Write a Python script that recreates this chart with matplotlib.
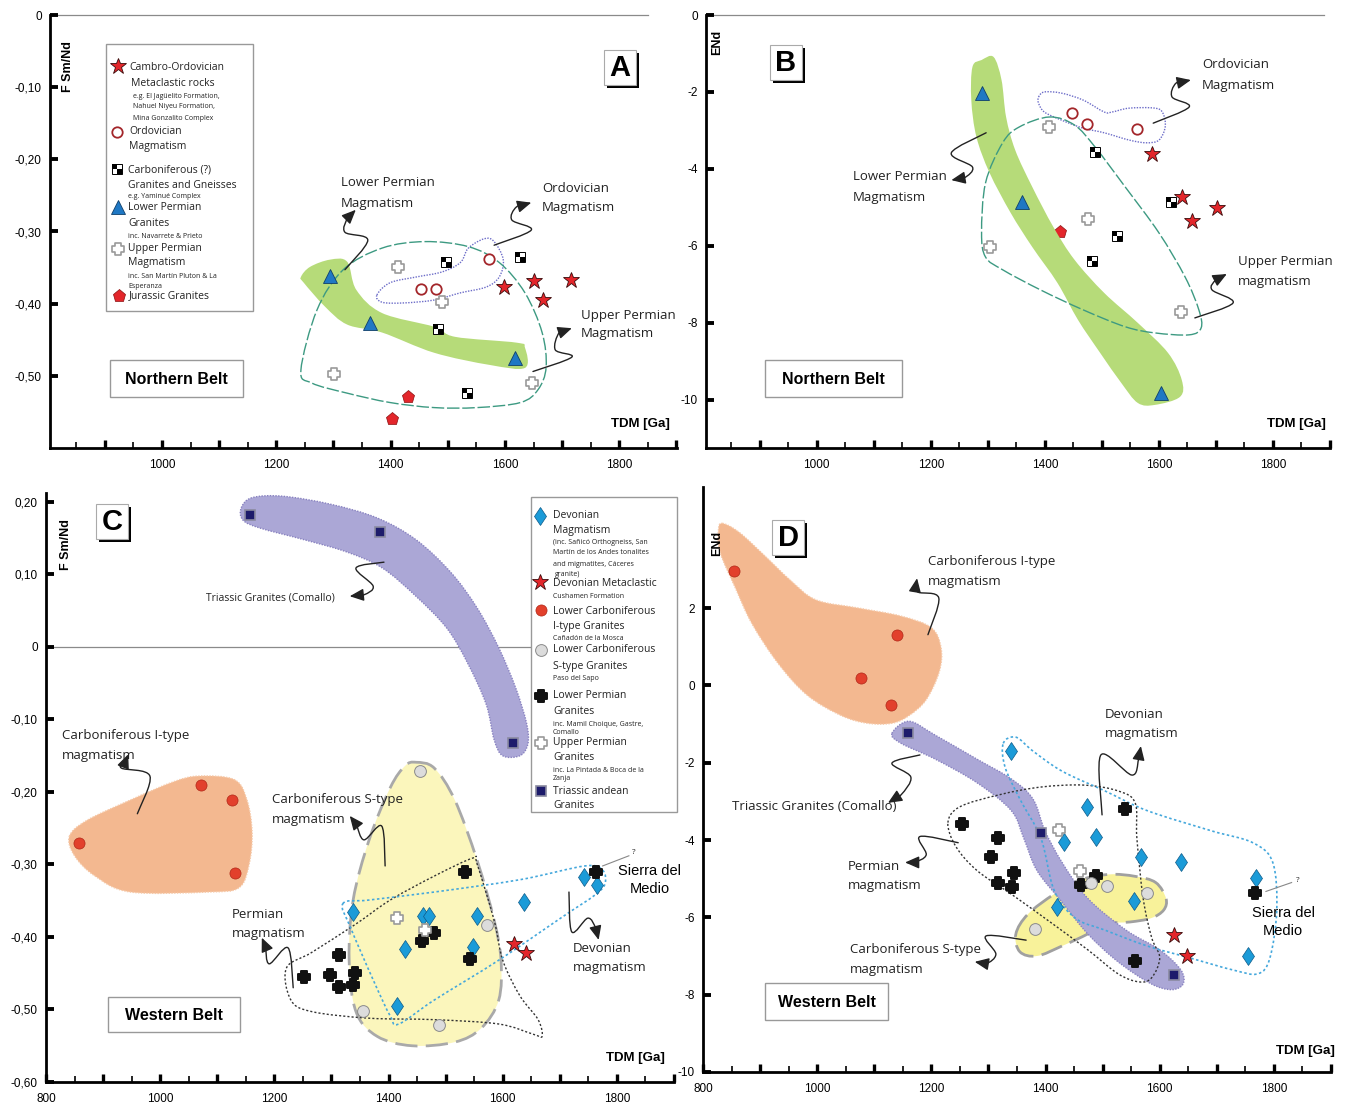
import numpy as np
import matplotlib
matplotlib.use('Agg')
import matplotlib.pyplot as plt
from matplotlib.path import Path
from matplotlib.patches import PathPatch, FancyArrowPatch, Rectangle

plt.rcParams['font.family'] = ['Open Sans', 'DejaVu Sans']

W, H = 1346, 1106

# ---------------- panel A : F Sm/Nd vs TDM, Northern Belt
a_star_x = [1599, 1651, 1716, 1666]
a_star_y = [-0.377, -0.369, -0.367, -0.395]
a_ordo_x = [1572, 1453, 1479]
a_ordo_y = [-0.338, -0.380, -0.379]
a_carb_x = [1497, 1627, 1483, 1534]
a_carb_y = [-0.342, -0.336, -0.435, -0.524]
a_lperm_x = [1294, 1364, 1618]
a_lperm_y = [-0.361, -0.427, -0.475]
a_uperm_x = [1413, 1490, 1301, 1648]
a_uperm_y = [-0.349, -0.397, -0.498, -0.510]
a_jur_x = [1430, 1402]
a_jur_y = [-0.530, -0.560]

a_green = [(1243, -0.363), (1259, -0.349), (1294, -0.339), (1324, -0.342), (1340, -0.381),
           (1385, -0.413), (1476, -0.432), (1513, -0.446), (1620, -0.454), (1635, -0.461),
           (1635, -0.489), (1574, -0.485), (1476, -0.468), (1385, -0.440), (1324, -0.429),
           (1285, -0.404), (1248, -0.371)]
a_ordo_field = [(1376, -0.388), (1399, -0.371), (1445, -0.363), (1490, -0.356), (1522, -0.343),
                (1536, -0.323), (1564, -0.310), (1581, -0.314), (1597, -0.339), (1590, -0.363),
                (1567, -0.377), (1522, -0.385), (1476, -0.395), (1422, -0.399), (1385, -0.398)]
a_uperm_field = [(1243, -0.492), (1271, -0.409), (1317, -0.353), (1385, -0.323), (1460, -0.314),
                 (1536, -0.321), (1590, -0.343), (1635, -0.385), (1665, -0.440), (1672, -0.488),
                 (1658, -0.519), (1627, -0.537), (1551, -0.544), (1476, -0.544), (1399, -0.537),
                 (1324, -0.524), (1262, -0.510)]
a_arrows = [
    [(1320, -0.353), (1360, -0.312), (1320, -0.301), (1325, -0.281), (1339, -0.270)],
    [(1581, -0.319), (1646, -0.298), (1612, -0.284), (1620, -0.266), (1646, -0.260)],
    [(1649, -0.494), (1717, -0.474), (1688, -0.464), (1695, -0.440), (1717, -0.434)],
]

# ---------------- panel B : ENd vs TDM, Northern Belt
b_star_x = [1588, 1640, 1658, 1702]
b_star_y = [-3.61, -4.73, -5.35, -5.02]
b_ordo_x = [1448, 1474, 1562]
b_ordo_y = [-2.55, -2.83, -2.97]
b_carb_x = [1488, 1621, 1527, 1483]
b_carb_y = [-3.57, -4.86, -5.73, -6.38]
b_lperm_x = [1289, 1360, 1604]
b_lperm_y = [-2.03, -4.86, -9.82]
b_uperm_x = [1408, 1476, 1303, 1639]
b_uperm_y = [-2.90, -5.30, -6.03, -7.71]
b_jur_x = [1427]
b_jur_y = [-5.64]

b_green = [(1310, -1.09), (1324, -1.69), (1332, -2.65), (1348, -3.51), (1378, -4.47),
           (1415, -5.51), (1452, -6.36), (1504, -7.22), (1563, -8.00), (1616, -8.78),
           (1640, -9.48), (1637, -9.92), (1593, -10.13), (1563, -10.08), (1534, -9.56),
           (1497, -8.78), (1458, -7.92), (1422, -6.96), (1378, -6.03), (1340, -5.14),
           (1303, -4.10), (1280, -3.17), (1271, -2.21), (1273, -1.35), (1289, -1.17)]
b_ordo_field = [(1389, -2.13), (1399, -2.00), (1429, -2.03), (1467, -2.21), (1504, -2.52),
                (1518, -2.52), (1548, -2.42), (1593, -2.42), (1607, -2.55), (1611, -2.91),
                (1600, -3.25), (1578, -3.32), (1548, -3.25), (1504, -3.06), (1467, -2.94),
                (1429, -2.73), (1399, -2.52), (1389, -2.29)]
b_uperm_field = [(1408, -2.65), (1452, -2.86), (1488, -3.43), (1541, -4.47), (1600, -5.66),
                 (1646, -6.81), (1670, -7.66), (1674, -8.13), (1653, -8.31), (1593, -8.26),
                 (1541, -8.10), (1467, -7.66), (1392, -7.14), (1326, -6.62), (1296, -6.29),
                 (1289, -5.66), (1296, -4.36), (1326, -3.32), (1355, -2.91)]
b_arrows = [
    [(1590, -2.81), (1653, -2.39), (1623, -2.13), (1630, -1.77), (1656, -1.69)],
    [(1297, -3.06), (1236, -3.58), (1273, -3.95), (1259, -4.23), (1236, -4.29)],
    [(1663, -7.87), (1730, -7.48), (1693, -7.14), (1700, -6.88), (1719, -6.73)],
]

# ---------------- panel C : F Sm/Nd vs TDM, Western Belt
c_tri_x = [1158, 1385, 1618]
c_tri_y = [0.182, 0.159, -0.132]
c_icarb_x = [858, 1072, 1126, 1131]
c_icarb_y = [-0.270, -0.190, -0.211, -0.312]
c_scarb_x = [1455, 1572, 1355, 1488]
c_scarb_y = [-0.171, -0.383, -0.502, -0.521]
c_dev_x = [1338, 1460, 1471, 1555, 1429, 1548, 1637, 1743, 1766, 1415]
c_dev_y = [-0.366, -0.371, -0.371, -0.371, -0.417, -0.414, -0.352, -0.317, -0.328, -0.495]
c_star_x = [1620, 1641]
c_star_y = [-0.410, -0.422]
c_lperm_x = [1534, 1763, 1479, 1458, 1543, 1313, 1252, 1298, 1341, 1313, 1338]
c_lperm_y = [-0.310, -0.310, -0.394, -0.405, -0.430, -0.425, -0.455, -0.453, -0.450, -0.469, -0.466]
c_uperm_x = [1415, 1464]
c_uperm_y = [-0.374, -0.390]

c_tri_band = [(1142, 0.192), (1161, 0.206), (1214, 0.208), (1298, 0.197), (1380, 0.178),
              (1448, 0.148), (1509, 0.103), (1555, 0.054), (1593, -0.001), (1623, -0.057),
              (1642, -0.106), (1644, -0.134), (1630, -0.150), (1600, -0.150), (1585, -0.128),
              (1571, -0.079), (1539, -0.023), (1502, 0.026), (1448, 0.070), (1389, 0.109),
              (1327, 0.131), (1252, 0.148), (1175, 0.164), (1145, 0.175)]
c_icarb_field = [(841, -0.261), (872, -0.239), (948, -0.211), (1023, -0.186), (1068, -0.178),
                 (1130, -0.183), (1152, -0.211), (1161, -0.255), (1156, -0.299), (1138, -0.332),
                 (1084, -0.338), (948, -0.338), (886, -0.316), (850, -0.288)]
c_scarb_field = [(1448, -0.159), (1480, -0.167), (1516, -0.211), (1555, -0.294), (1585, -0.377),
                 (1597, -0.432), (1593, -0.487), (1562, -0.526), (1516, -0.545), (1441, -0.550),
                 (1380, -0.537), (1343, -0.503), (1331, -0.432), (1338, -0.349), (1366, -0.266),
                 (1403, -0.194), (1429, -0.164)]
c_perm_field = [(1221, -0.443), (1266, -0.421), (1343, -0.382), (1403, -0.349), (1480, -0.316),
                (1548, -0.291), (1555, -0.299), (1585, -0.377), (1600, -0.432), (1630, -0.481),
                (1662, -0.514), (1669, -0.537), (1653, -0.534), (1593, -0.520), (1480, -0.514),
                (1366, -0.512), (1266, -0.503), (1229, -0.487)]
c_dev_field = [(1320, -0.354), (1366, -0.349), (1480, -0.338), (1630, -0.321), (1744, -0.302),
               (1775, -0.308), (1779, -0.327), (1760, -0.343), (1707, -0.371), (1593, -0.432),
               (1480, -0.487), (1418, -0.520), (1403, -0.509), (1373, -0.459), (1334, -0.388)]
c_arrows = [
    [(1392, 0.117), (1343, 0.109), (1373, 0.084), (1357, 0.072), (1332, 0.070)],
    [(960, -0.230), (982, -0.178), (932, -0.167), (940, -0.156), (944, -0.148)],
    [(1394, -0.302), (1388, -0.247), (1357, -0.266), (1343, -0.244), (1332, -0.233)],
    [(1233, -0.470), (1224, -0.415), (1191, -0.437), (1184, -0.412), (1178, -0.401)],
    [(1716, -0.338), (1721, -0.393), (1749, -0.374), (1763, -0.388), (1768, -0.404)],
]
c_qline = [(1775, -0.302), (1821, -0.288)]

# ---------------- panel D : ENd vs TDM, Western Belt
d_icarb_x = [855, 1140, 1077, 1130]
d_icarb_y = [2.95, 1.31, 0.20, -0.52]
d_tri_x = [1159, 1392, 1625]
d_tri_y = [-1.24, -3.81, -7.49]
d_dev_x = [1340, 1472, 1488, 1432, 1567, 1637, 1768, 1555, 1420, 1754]
d_dev_y = [-1.70, -3.14, -3.91, -4.04, -4.43, -4.56, -4.99, -5.58, -5.74, -7.00]
d_lperm_x = [1539, 1254, 1317, 1305, 1345, 1317, 1341, 1488, 1462, 1767, 1556]
d_lperm_y = [-3.19, -3.58, -3.94, -4.45, -4.86, -5.10, -5.22, -4.94, -5.17, -5.38, -7.13]
d_uperm_x = [1424, 1460]
d_uperm_y = [-3.73, -4.81]
d_scarb_x = [1480, 1508, 1578, 1382]
d_scarb_y = [-5.10, -5.20, -5.38, -6.30]
d_star_x = [1625, 1648]
d_star_y = [-6.46, -7.00]

d_icarb_field = [(834, 4.19), (864, 3.95), (909, 3.34), (953, 2.72), (998, 2.21), (1072, 2.00),
                 (1147, 1.79), (1200, 1.49), (1217, 0.97), (1214, 0.36), (1191, -0.37),
                 (1161, -0.78), (1131, -0.98), (1088, -0.98), (1042, -0.78), (983, -0.26),
                 (932, 0.56), (886, 1.59), (857, 2.51), (830, 3.44), (827, 4.01)]
d_tri_band = [(1131, -1.24), (1161, -0.93), (1207, -1.29), (1280, -1.91), (1340, -2.42),
              (1378, -2.94), (1399, -3.76), (1429, -4.58), (1474, -5.51), (1541, -6.33),
              (1600, -6.84), (1637, -7.36), (1641, -7.72), (1621, -7.87), (1585, -7.72),
              (1527, -7.15), (1474, -6.43), (1429, -5.61), (1385, -4.79), (1362, -3.96),
              (1340, -3.24), (1280, -2.52), (1207, -1.91), (1147, -1.50)]
d_scarb_field = [(1348, -6.43), (1369, -5.92), (1415, -5.40), (1459, -5.04), (1511, -4.89),
                 (1557, -4.94), (1593, -5.10), (1611, -5.51), (1607, -5.81), (1585, -6.02),
                 (1548, -6.12), (1504, -6.17), (1474, -6.43), (1429, -6.74), (1385, -7.00),
                 (1355, -6.89)]
d_perm_field = [(1229, -3.55), (1250, -3.14), (1319, -2.83), (1392, -2.63), (1467, -2.58),
                (1527, -2.73), (1557, -3.04), (1560, -3.96), (1571, -5.51), (1586, -6.53),
                (1600, -7.05), (1586, -7.56), (1564, -7.67), (1527, -7.46), (1474, -6.84),
                (1408, -6.12), (1340, -5.40), (1280, -4.79), (1243, -4.17)]
d_dev_field = [(1326, -1.50), (1348, -1.34), (1378, -1.70), (1429, -2.22), (1504, -2.73),
               (1578, -3.24), (1690, -3.76), (1763, -4.07), (1798, -4.58), (1805, -5.81),
               (1793, -7.05), (1772, -7.46), (1728, -7.36), (1653, -7.05), (1578, -6.74),
               (1504, -6.33), (1452, -6.02), (1415, -5.30), (1392, -3.96), (1355, -2.94),
               (1329, -2.11)]
d_arrows = [
    [(1194, 1.31), (1213, 2.26), (1177, 2.41), (1173, 2.59), (1175, 2.77)],
    [(1499, -3.35), (1497, -1.80), (1551, -2.32), (1563, -1.91), (1567, -1.57)],
    [(1180, -1.80), (1131, -2.01), (1164, -2.37), (1147, -2.83), (1124, -3.04)],
    [(1247, -4.07), (1180, -3.91), (1191, -4.38), (1170, -4.58), (1154, -4.58)],
    [(1366, -6.59), (1296, -6.48), (1313, -6.95), (1296, -7.20), (1276, -7.15)],
]
d_qline = [(1786, -5.33), (1831, -5.10)]

# ---------------- marker styles
checker = Path([(-1, 0), (0, 0), (0, 1), (-1, 1), (-1, 0),
                (0, -1), (1, -1), (1, 0), (0, 0), (0, -1)],
               [Path.MOVETO, Path.LINETO, Path.LINETO, Path.LINETO, Path.CLOSEPOLY,
                Path.MOVETO, Path.LINETO, Path.LINETO, Path.LINETO, Path.CLOSEPOLY])
k = 0.42
fat_cross = Path([(-k, -1), (k, -1), (k, -k), (1, -k), (1, k), (k, k), (k, 1), (-k, 1),
                  (-k, k), (-1, k), (-1, -k), (-k, -k), (-k, -1)], closed=True)
styles = {
    'star': dict(marker='*', ms=12, mfc='#e3262b', mec='#3a0a0a', mew=0.6),
    'ordo': dict(marker='o', ms=7.5, mfc='white', mec='#a3262a', mew=1.3),
    'ltri': dict(marker='^', ms=9.5, mfc='#1f78c4', mec='#0f3f6a', mew=0.6),
    'uperm': dict(marker=fat_cross, ms=9, mfc='white', mec='#9a9a9a', mew=1.2),
    'jur': dict(marker='p', ms=9.5, mfc='#e3262b', mec='#8a1010', mew=0.5),
    'dev': dict(marker='d', ms=9.5, mfc='#1b9bd8', mec='#0d5a88', mew=0.5),
    'icarb': dict(marker='o', ms=8, mfc='#e2402c', mec='#b02818', mew=0.5),
    'scarb': dict(marker='o', ms=8.5, mfc='#dcdcdc', mec='#8a8a8a', mew=0.7),
    'lpx': dict(marker=fat_cross, ms=9, mfc='#111111', mec='#111111', mew=1.4),
    'tri': dict(marker='s', ms=6.5, mfc='#1d1b6b', mec='#8a8aa0', mew=1.2),
}


def pts(ax, x, y, key, z=5):
    if key == 'carb':
        ax.plot(x, y, ls='none', marker='s', ms=6.5, mfc='white', mec='black', mew=0.7, zorder=z)
        ax.plot(x, y, ls='none', marker=checker, ms=6.5, mfc='black', mec='black', mew=0, zorder=z)
    else:
        ax.plot(x, y, ls='none', zorder=z, **styles[key])


def smooth_closed(p):
    P = np.asarray(p, float)
    n = len(P)
    verts, codes = [P[0]], [Path.MOVETO]
    for i in range(n):
        p0, p1, p2, p3 = P[i - 1], P[i], P[(i + 1) % n], P[(i + 2) % n]
        verts += [p1 + (p2 - p0) / 6, p2 - (p3 - p1) / 6, p2]
        codes += [Path.CURVE4] * 3
    return Path(verts, codes)


def smooth_open(p):
    P = np.asarray(p, float)
    P = np.vstack([P[0], P, P[-1]])
    verts, codes = [P[1]], [Path.MOVETO]
    for i in range(1, len(P) - 2):
        p0, p1, p2, p3 = P[i - 1], P[i], P[i + 1], P[i + 2]
        verts += [p1 + (p2 - p0) / 6, p2 - (p3 - p1) / 6, p2]
        codes += [Path.CURVE4] * 3
    return Path(verts, codes)


def field(ax, p, fc='none', ec='none', ls='-', lw=1.0, z=1):
    ax.add_patch(PathPatch(smooth_closed(p), fc=fc, ec=ec, ls=ls, lw=lw, zorder=z))


def squiggle(ax, p):
    ax.add_patch(FancyArrowPatch(path=smooth_open(p),
                                 arrowstyle='-|>,head_length=0.5,head_width=0.22',
                                 mutation_scale=17, lw=1.0, color='#222222', zorder=6))


def setup(ax, xlim, ylim, yticks, ylabels, xmaj):
    ax.set_xlim(xlim)
    ax.set_ylim(ylim)
    ax.patch.set_alpha(0)
    for s in ['top', 'right']:
        ax.spines[s].set_visible(False)
    ax.spines['left'].set_linewidth(2.0)
    ax.spines['bottom'].set_linewidth(2.0)
    ax.set_xticks(xmaj)
    ax.set_xticklabels([str(v) if v % 200 == 0 else '' for v in xmaj],
                       fontfamily='Liberation Sans', fontsize=8.5)
    ax.set_xticks(np.arange(850, 1900, 100), minor=True)
    ax.tick_params(axis='x', which='major', direction='in', length=6, width=2.4, pad=8)
    ax.tick_params(axis='x', which='minor', direction='in', length=4, width=1.2)
    ax.set_yticks(yticks)
    ax.set_yticklabels(ylabels, fontfamily='Liberation Sans', fontsize=8.5)
    ax.tick_params(axis='y', direction='in', length=6, width=2.8, pad=6)


def rect(x0, y0, x1, y1):
    return [x0 / W, 1 - y1 / H, (x1 - x0) / W, (y1 - y0) / H]


fig = plt.figure(figsize=(W / 100, H / 100), dpi=100)

axA = fig.add_axes(rect(50, 15, 677, 448))
axB = fig.add_axes(rect(706, 15, 1330, 448))
axC = fig.add_axes(rect(46, 493, 674, 1082))
axD = fig.add_axes(rect(703, 487, 1331, 1072))

setup(axA, (804, 1901), (-0.6, 0), [0, -0.1, -0.2, -0.3, -0.4, -0.5],
      ['0', '-0,10', '-0,20', '-0,30', '-0,40', '-0,50'], np.arange(900, 1901, 100))
setup(axB, (805.75, 1897.75), (-11.25, 0), [0, -2, -4, -6, -8, -10],
      ['0', '-2', '-4', '-6', '-8', '-10'], np.arange(900, 1901, 100))
setup(axC, (800.5, 1899.5), (-0.6, 0.2124), [0.2, 0.1, 0, -0.1, -0.2, -0.3, -0.4, -0.5, -0.6],
      ['0,20', '0,10', '0', '-0,10', '-0,20', '-0,30', '-0,40', '-0,50', '-0,60'],
      np.arange(800, 1901, 100))
setup(axD, (800.5, 1899.5), (-10, 5.13), [2, 0, -2, -4, -6, -8, -10],
      ['2', '0', '-2', '-4', '-6', '-8', '-10'], np.arange(800, 1901, 100))

# zero reference lines
axA.plot([804, 1850], [0, 0], color='#8a8a8a', lw=0.9, clip_on=False, zorder=0)
axB.plot([805.75, 1889], [0, 0], color='#8a8a8a', lw=0.9, clip_on=False, zorder=0)
axC.plot([800.5, 1648], [0, 0], color='#8a8a8a', lw=0.9, clip_on=False, zorder=0)

GREEN, PURPLE, ORANGE = '#b6db79', '#aba7d6', '#f3b890'
YELLOW_C, YELLOW_D = '#fbf6bc', '#f8f29a'

# ---- A
field(axA, a_green, fc=GREEN)
field(axA, a_ordo_field, ec='#6c6cc8', ls=(0, (1, 1)), lw=1.0, z=2)
field(axA, a_uperm_field, ec='#3d9a82', ls=(0, (9, 2)), lw=1.0, z=2)
for p in a_arrows:
    squiggle(axA, p)
pts(axA, a_star_x, a_star_y, 'star')
pts(axA, a_ordo_x, a_ordo_y, 'ordo')
pts(axA, a_carb_x, a_carb_y, 'carb')
pts(axA, a_lperm_x, a_lperm_y, 'ltri')
pts(axA, a_uperm_x, a_uperm_y, 'uperm')
pts(axA, a_jur_x, a_jur_y, 'jur')

# ---- B
pts(axB, b_jur_x, b_jur_y, 'jur', z=0.5)
field(axB, b_green, fc=GREEN)
field(axB, b_ordo_field, ec='#6c6cc8', ls=(0, (1, 1)), lw=1.0, z=2)
field(axB, b_uperm_field, ec='#3d9a82', ls=(0, (9, 2)), lw=1.0, z=2)
for p in b_arrows:
    squiggle(axB, p)
pts(axB, b_star_x, b_star_y, 'star')
pts(axB, b_ordo_x, b_ordo_y, 'ordo')
pts(axB, b_carb_x, b_carb_y, 'carb')
pts(axB, b_lperm_x, b_lperm_y, 'ltri')
pts(axB, b_uperm_x, b_uperm_y, 'uperm')

# ---- C
field(axC, c_icarb_field, fc=ORANGE, ec='#f6c9a8', ls=(0, (1, 1)), lw=1.0)
field(axC, c_scarb_field, fc=YELLOW_C, ec='#a9a9a9', ls=(0, (8, 3)), lw=2.0)
field(axC, c_tri_band, fc=PURPLE, ec='#8882c0', ls=(0, (1, 1)), lw=1.0)
field(axC, c_perm_field, ec='#333333', ls=(0, (1.5, 1.5)), lw=1.0, z=2)
field(axC, c_dev_field, ec='#45a8dc', ls=(0, (1.5, 1.5)), lw=1.2, z=2)
for p in c_arrows:
    squiggle(axC, p)
axC.plot(*zip(*c_qline), color='#888888', lw=0.8, zorder=6)
pts(axC, c_tri_x, c_tri_y, 'tri')
pts(axC, c_icarb_x, c_icarb_y, 'icarb')
pts(axC, c_scarb_x, c_scarb_y, 'scarb')
pts(axC, c_dev_x, c_dev_y, 'dev')
pts(axC, c_star_x, c_star_y, 'star')
pts(axC, c_lperm_x, c_lperm_y, 'lpx')
pts(axC, c_uperm_x, c_uperm_y, 'uperm')

# ---- D
field(axD, d_icarb_field, fc=ORANGE, ec='#f6c9a8', ls=(0, (1, 1)), lw=1.0)
field(axD, d_scarb_field, fc=YELLOW_D, ec='#a0a0a0', ls=(0, (8, 3)), lw=2.0)
field(axD, d_tri_band, fc=PURPLE, ec='#8882c0', ls=(0, (1, 1)), lw=1.0)
field(axD, d_perm_field, ec='#333333', ls=(0, (1.5, 1.5)), lw=1.0, z=2)
field(axD, d_dev_field, ec='#45a8dc', ls=(0, (1.5, 1.5)), lw=1.2, z=2)
for p in d_arrows:
    squiggle(axD, p)
axD.plot(*zip(*d_qline), color='#888888', lw=0.8, zorder=6)
pts(axD, d_icarb_x, d_icarb_y, 'icarb')
pts(axD, d_tri_x, d_tri_y, 'tri')
pts(axD, d_dev_x, d_dev_y, 'dev')
pts(axD, d_lperm_x, d_lperm_y, 'lpx')
pts(axD, d_uperm_x, d_uperm_y, 'uperm')
pts(axD, d_scarb_x, d_scarb_y, 'scarb')
pts(axD, d_star_x, d_star_y, 'star')

# ---------------- layout layer (figure pixels, y downwards)
lay = fig.add_axes([0, 0, 1, 1])
lay.set_xlim(0, W)
lay.set_ylim(H, 0)
lay.axis('off')

BIG, SMALL, ANN = 7.5, 5.0, 9.5


def txt(x, y, s, size=ANN, **kw):
    lay.text(x, y, s, fontsize=size, va='center', ha=kw.pop('ha', 'left'), color='#222222', **kw)


def box(x0, y0, x1, y1, ec='#999999', lw=1.0):
    lay.add_patch(Rectangle((x0, y0), x1 - x0, y1 - y0, fc='white', ec=ec, lw=lw, zorder=3))


def letter(cx, cy, s):
    lay.add_patch(Rectangle((cx - 13, cy - 14), 32, 35, fc='black', ec='none', zorder=3))
    lay.add_patch(Rectangle((cx - 16, cy - 17), 32, 35, fc='white', ec='#aaaaaa', lw=0.8, zorder=3))
    lay.text(cx, cy + 1, s, fontsize=21, fontweight='bold', family='Liberation Sans',
             ha='center', va='center', zorder=4)


def belt(x0, y0, x1, y1, s):
    box(x0, y0, x1, y1)
    lay.text((x0 + x1) / 2, (y0 + y1) / 2 + 1, s, fontsize=11.5, fontweight='bold',
             family='Liberation Sans', ha='center', va='center', zorder=4)


def bold(x, y, s, rot=0, size=9):
    lay.text(x, y, s, fontsize=size, fontweight='bold', family='Liberation Sans',
             rotation=rot, ha='center', va='center')


# axis titles
bold(68, 67, 'F Sm/Nd', rot=90)
bold(717, 42, 'ENd', rot=90)
bold(66, 545, 'F Sm/Nd', rot=90)
bold(717, 543, 'ENd', rot=90)
bold(640, 424, 'TDM [Ga]', size=9.5)
bold(1296, 424, 'TDM [Ga]', size=9.5)
bold(635, 1058, 'TDM [Ga]', size=9.5)
bold(1305, 1051, 'TDM [Ga]', size=9.5)

letter(620, 67, 'A')
letter(786, 62, 'B')
letter(112, 521, 'C')
letter(788, 537, 'D')

belt(110, 360, 243, 397, 'Northern Belt')
belt(765, 360, 902, 397, 'Northern Belt')
belt(108, 997, 240, 1032, 'Western Belt')
belt(765, 983, 888, 1020, 'Western Belt')

# annotations
for x, y, s in [(341, 183, 'Lower Permian'), (341, 203, 'Magmatism'),
                (542, 189, 'Ordovician'), (542, 208, 'Magmatism'),
                (581, 315, 'Upper Permian'), (581, 334, 'Magmatism'),
                (1202, 65, 'Ordovician'), (1202, 85, 'Magmatism'),
                (853, 177, 'Lower Permian'), (853, 197, 'Magmatism'),
                (1238, 261, 'Upper Permian'), (1238, 281, 'magmatism'),
                (62, 736, 'Carboniferous I-type'), (62, 755, 'magmatism'),
                (272, 800, 'Carboniferous S-type'), (272, 819, 'magmatism'),
                (232, 915, 'Permian'), (232, 934, 'magmatism'),
                (573, 949, 'Devonian'), (573, 968, 'magmatism'),
                (928, 561, 'Carboniferous I-type'), (928, 581, 'magmatism'),
                (1105, 714, 'Devonian'), (1105, 733, 'magmatism'),
                (848, 866, 'Permian'), (848, 886, 'magmatism'),
                (850, 950, 'Carboniferous S-type'), (850, 969, 'magmatism')]:
    txt(x, y, s)
txt(206, 598, 'Triassic Granites (Comallo)', size=7.5)
txt(732, 806, 'Triassic Granites (Comallo)', size=9.5)
for cx, y1, y2 in [(650, 871, 889), (1283, 913, 931)]:
    lay.text(cx, y1, 'Sierra del', fontsize=10.5, family='Liberation Sans', ha='center', va='center')
    lay.text(cx, y2, 'Medio', fontsize=10.5, family='Liberation Sans', ha='center', va='center')
txt(632, 853, '?', size=6)
txt(1296, 881, '?', size=6)

# legend A
box(106, 44, 253, 311)
leg_a_marks = [('star', 118, 66), ('ordo', 117, 132), ('carb', 117, 169),
               ('ltri', 118, 207), ('uperm', 118, 249), ('jur', 119, 296)]
leg_a_text = [(129, 67, 'Cambro-Ordovician', BIG), (131, 83, 'Metaclastic rocks', BIG),
              (133, 96, 'e.g. El Jagüelito Formation,', SMALL),
              (133, 107, 'Nahuel Niyeu Formation,', SMALL),
              (133, 118, 'Mina Gonzalito Complex', SMALL),
              (129, 132, 'Ordovician', BIG), (129, 147, 'Magmatism', BIG),
              (128, 170, 'Carboniferous (?)', BIG), (128, 185, 'Granites and Gneisses', BIG),
              (128, 197, 'e.g. Yaminué Complex', SMALL),
              (128, 208, 'Lower Permian', BIG), (128, 223, 'Granites', BIG),
              (128, 236, 'inc. Navarrete & Prieto', SMALL),
              (128, 249, 'Upper Permian', BIG), (128, 263, 'Magmatism', BIG),
              (128, 276, 'inc. San Martín Pluton & La', SMALL), (128, 286, 'Esperanza', SMALL),
              (129, 296, 'Jurassic Granites', BIG)]

# legend C
box(531, 497, 677, 812)
leg_c_marks = [('dev', 540, 516), ('star', 540, 582), ('icarb', 541, 610), ('scarb', 541, 650),
               ('lpx', 541, 696), ('uperm', 541, 743), ('tri', 541, 791)]
leg_c_text = [(553, 516, 'Devonian', BIG), (553, 531, 'Magmatism', BIG),
              (553, 543, '(inc. Sañicó Orthogneiss, San', SMALL),
              (553, 553, 'Martín de los Andes tonalites', SMALL),
              (553, 564, 'and migmatites, Cáceres', SMALL), (555, 574, 'granite)', SMALL),
              (553, 584, 'Devonian Metaclastic', BIG), (553, 596, 'Cushamen Formation', SMALL),
              (553, 611, 'Lower Carboniferous', BIG), (553, 626, 'I-type Granites', BIG),
              (553, 638, 'Cañadón de la Mosca', SMALL),
              (553, 650, 'Lower Carboniferous', BIG), (553, 666, 'S-type Granites', BIG),
              (553, 678, 'Paso del Sapo', SMALL),
              (553, 696, 'Lower Permian', BIG), (553, 711, 'Granites', BIG),
              (553, 724, 'inc. Mamil Choique, Gastre,', SMALL), (553, 733, 'Comallo', SMALL),
              (553, 743, 'Upper Permian', BIG), (553, 758, 'Granites', BIG),
              (553, 771, 'inc. La Pintada & Boca de la', SMALL), (553, 779, 'Zanja', SMALL),
              (553, 791, 'Triassic andean', BIG), (553, 806, 'Granites', BIG)]

for key, x, y in leg_a_marks + leg_c_marks:
    pts(lay, [x], [y], key, z=5)
for x, y, s, size in leg_a_text + leg_c_text:
    lay.text(x, y, s, fontsize=size, va='center', ha='left', color='#222222', zorder=5)

fig.savefig('out.png', dpi=100, facecolor='white')
